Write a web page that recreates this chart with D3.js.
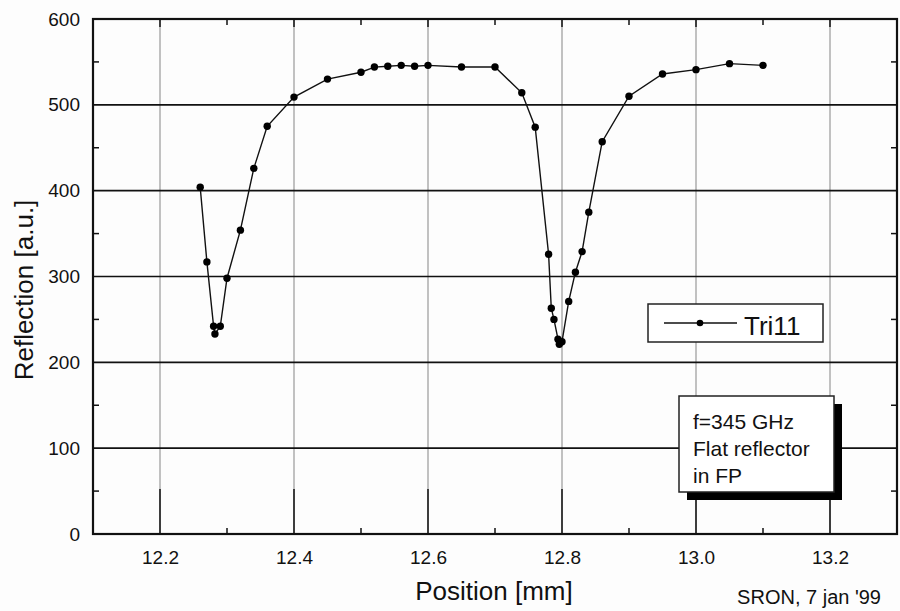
<!DOCTYPE html>
<html>
<head>
<meta charset="utf-8">
<script src="https://cdn.jsdelivr.net/npm/d3@7"></script>
<style>
  body { margin: 0; background: #fdfdfd; }
  text { font-family: Arial, "Liberation Sans", sans-serif; fill: #111; }
</style>
</head>
<body>
<div id="visualization"></div>
<script>
let w = 900;
let h = 611;

// measured data, Tri11
let positions = [12.26, 12.27, 12.28, 12.282, 12.29, 12.30, 12.32, 12.34, 12.36, 12.40,
  12.45, 12.50, 12.52, 12.54, 12.56, 12.58, 12.60, 12.65, 12.70, 12.74,
  12.76, 12.78, 12.784, 12.788, 12.794, 12.796, 12.80, 12.81, 12.82, 12.83,
  12.84, 12.86, 12.90, 12.95, 13.00, 13.05, 13.10];
let reflection = [404, 317, 242, 233, 242, 298, 354, 426, 475, 509,
  530, 538, 544, 545, 546, 545, 546, 544, 544, 514,
  474, 326, 263, 250, 227, 221, 224, 271, 305, 329,
  375, 457, 510, 536, 541, 548, 546];

let xTicks = [12.2, 12.4, 12.6, 12.8, 13.0, 13.2];
let xMinor = [12.3, 12.5, 12.7, 12.9, 13.1];
let yTicks = [0, 100, 200, 300, 400, 500, 600];
let yMinor = [50, 150, 250, 350, 450, 550];
let seriesName = "Tri11";
let noteLines = ["f=345 GHz", "Flat reflector", "in FP"];

let data = positions.map(function(p, i){
  return {x: p, y: reflection[i]};
});

let padLeft = 93, padRight = 897, padTop = 19, padBottom = 534;

let viz = d3.select("#visualization")
  .append("svg")
  .attr("width", w)
  .attr("height", h)
;

let xScale = d3.scaleLinear().domain([12.1, 13.3]).range([padLeft, padRight]);
let yScale = d3.scaleLinear().domain([0, 600]).range([padBottom, padTop]);

// gridlines
viz.append("g").selectAll("line").data(xTicks).enter()
  .append("line")
  .attr("x1", d => xScale(d)).attr("x2", d => xScale(d))
  .attr("y1", padTop).attr("y2", padBottom)
  .attr("stroke", "#999").attr("stroke-width", 1.2)
;
viz.append("g").selectAll("line").data(yTicks.slice(1, -1)).enter()
  .append("line")
  .attr("x1", padLeft).attr("x2", padRight)
  .attr("y1", d => yScale(d)).attr("y2", d => yScale(d))
  .attr("stroke", "#111").attr("stroke-width", 1.6)
;

// axes: labels only, ticks drawn by hand below
let xAxis = d3.axisBottom(xScale).tickValues(xTicks).tickSize(0).tickPadding(17)
  .tickFormat(d3.format(".1f"));
let xAxisGroup = viz.append("g").attr("transform", "translate(0," + padBottom + ")").call(xAxis);
xAxisGroup.select(".domain").remove();
xAxisGroup.selectAll("text").style("font-size", "19px").style("font-family", "Arial, 'Liberation Sans', sans-serif").attr("fill", "#111");

let yAxis = d3.axisLeft(yScale).tickValues(yTicks).tickSize(0).tickPadding(13);
let yAxisGroup = viz.append("g").attr("transform", "translate(" + padLeft + ",0)").call(yAxis);
yAxisGroup.select(".domain").remove();
yAxisGroup.selectAll("text").style("font-size", "19px").style("font-family", "Arial, 'Liberation Sans', sans-serif").attr("fill", "#111");

// inward ticks
let tickG = viz.append("g").attr("stroke", "#111").attr("stroke-width", 1.5);
xMinor.forEach(function(d){
  tickG.append("line").attr("x1", xScale(d)).attr("x2", xScale(d)).attr("y1", padBottom).attr("y2", padBottom - 6);
  tickG.append("line").attr("x1", xScale(d)).attr("x2", xScale(d)).attr("y1", padTop).attr("y2", padTop + 6);
});
xTicks.forEach(function(d){
  tickG.append("line").attr("x1", xScale(d)).attr("x2", xScale(d)).attr("y1", padBottom).attr("y2", padBottom - 45);
  tickG.append("line").attr("x1", xScale(d)).attr("x2", xScale(d)).attr("y1", padTop).attr("y2", padTop + 8);
});
yMinor.forEach(function(d){
  tickG.append("line").attr("x1", padLeft).attr("x2", padLeft + 6).attr("y1", yScale(d)).attr("y2", yScale(d));
  tickG.append("line").attr("x1", padRight).attr("x2", padRight - 6).attr("y1", yScale(d)).attr("y2", yScale(d));
});

// frame
viz.append("rect")
  .attr("x", padLeft).attr("y", padTop)
  .attr("width", padRight - padLeft).attr("height", padBottom - padTop)
  .attr("fill", "none").attr("stroke", "#111").attr("stroke-width", 2.2)
;

// series
let line = d3.line().x(d => xScale(d.x)).y(d => yScale(d.y));
viz.append("path").datum(data)
  .attr("d", line)
  .attr("fill", "none").attr("stroke", "#111").attr("stroke-width", 1.4)
;
viz.selectAll(".datapoint").data(data).enter()
  .append("circle")
  .attr("class", "datapoint")
  .attr("cx", d => xScale(d.x))
  .attr("cy", d => yScale(d.y))
  .attr("r", 3.7)
  .attr("fill", "#000")
;

// legend
let legend = viz.append("g").attr("transform", "translate(648,304)");
legend.append("rect").attr("width", 175).attr("height", 38)
  .attr("fill", "#fff").attr("stroke", "#222").attr("stroke-width", 1.5);
legend.append("line").attr("x1", 16).attr("x2", 89).attr("y1", 19).attr("y2", 19)
  .attr("stroke", "#111").attr("stroke-width", 1.4);
legend.append("circle").attr("cx", 52).attr("cy", 19).attr("r", 3.3).attr("fill", "#000");
legend.append("text").attr("x", 96).attr("y", 31).style("font-size", "26px").text(seriesName);

// note box with shadow
let note = viz.append("g").attr("transform", "translate(679,396)");
note.append("rect").attr("x", 8).attr("y", 8).attr("width", 155).attr("height", 96).attr("fill", "#000");
note.append("rect").attr("width", 155).attr("height", 96)
  .attr("fill", "#fff").attr("stroke", "#222").attr("stroke-width", 1.5);
note.selectAll(".noteline").data(noteLines).enter()
  .append("text")
  .attr("x", 14)
  .attr("y", (d, i) => 33 + i * 27)
  .style("font-size", "21px")
  .text(d => d);

// axis titles
viz.append("text").attr("x", 494).attr("y", 600).attr("text-anchor", "middle")
  .style("font-size", "26px").text("Position [mm]");
viz.append("text").attr("x", 881).attr("y", 604).attr("text-anchor", "end")
  .style("font-size", "20px").text("SRON, 7 jan '99");
viz.append("text")
  .attr("transform", "translate(33,290) rotate(-90)")
  .attr("text-anchor", "middle")
  .style("font-size", "26px").text("Reflection [a.u.]");
</script>
</body>
</html>
